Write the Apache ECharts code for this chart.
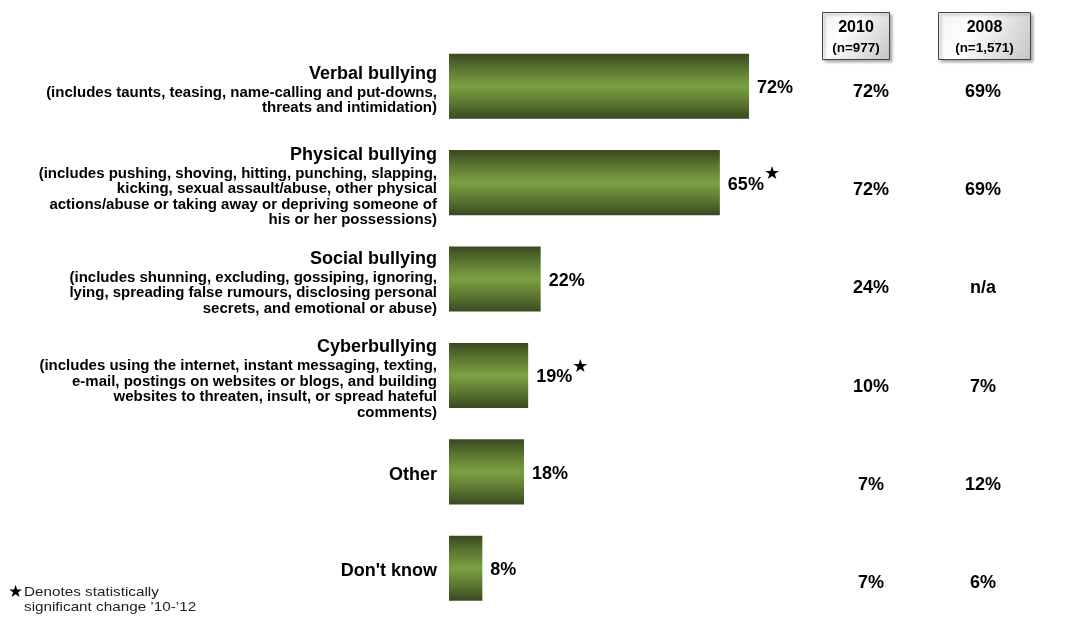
<!DOCTYPE html>
<html>
<head>
<meta charset="utf-8">
<script src="https://cdn.jsdelivr.net/npm/echarts@6/dist/echarts.min.js"></script>
<style>
  html, body { margin: 0; padding: 0; background: #fff; }
  #chart { width: 1069px; height: 618px; }
</style>
</head>
<body>
<div id="chart"></div>
<script>
// Types of bullying experienced (current wave) with earlier waves alongside
const categories = ['Verbal bullying', 'Physical bullying', 'Social bullying', 'Cyberbullying', 'Other', "Don't know"];
const descriptions = [
  ['(includes taunts, teasing, name-calling and put-downs,', 'threats and intimidation)'],
  ['(includes pushing, shoving, hitting, punching, slapping,', 'kicking, sexual assault/abuse, other physical', 'actions/abuse or taking away or depriving someone of', 'his or her possessions)'],
  ['(includes shunning, excluding, gossiping, ignoring,', 'lying, spreading false rumours, disclosing personal', 'secrets, and emotional or abuse)'],
  ['(includes using the internet, instant messaging, texting,', 'e-mail, postings on websites or blogs, and building', 'websites to threaten, insult, or spread hateful', 'comments)'],
  [],
  []
];
const currentValues = [72, 65, 22, 19, 18, 8];
const significant = [false, true, false, true, false, false];
const values2010 = [72, 72, 24, 10, 7, 7];
const values2008 = [69, 69, null, 7, 12, 6];
const columnYears = ['2010', '2008'];
const columnSizes = ['(n=977)', '(n=1,571)'];
const footnote = ['Denotes statistically', 'significant change \u201910-\u201912'];

const FONT = 'Liberation Sans, Arial, sans-serif';
const chart = echarts.init(document.getElementById('chart'));

const barGradient = new echarts.graphic.LinearGradient(0, 0, 0, 1, [
  { offset: 0, color: '#3b4820' },
  { offset: 0.22, color: '#587330' },
  { offset: 0.5, color: '#7aa243' },
  { offset: 0.78, color: '#587330' },
  { offset: 1, color: '#3b4820' }
]);

// table cells: [column, row, value]
const tableData = [];
categories.forEach((c, i) => {
  tableData.push([columnYears[0], c, values2010[i]]);
  tableData.push([columnYears[1], c, values2008[i]]);
});

// header boxes above the table columns
const headerBoxes = [
  { x: 822, w: 67 },
  { x: 938, w: 92 }
];
const headerGraphics = columnYears.map((yr, i) => ({
  type: 'group',
  left: headerBoxes[i].x,
  top: 12,
  children: [
    {
      type: 'rect',
      shape: { x: 0, y: 0, width: headerBoxes[i].w, height: 47 },
      style: {
        fill: new echarts.graphic.LinearGradient(0, 0, 1, 1, [
          { offset: 0, color: '#f2f2f2' },
          { offset: 0.35, color: '#ffffff' },
          { offset: 1, color: '#c4c4c4' }
        ]),
        stroke: '#444',
        lineWidth: 1,
        shadowColor: 'rgba(0,0,0,0.35)',
        shadowBlur: 3,
        shadowOffsetX: 2,
        shadowOffsetY: 2
      }
    },
    {
      type: 'text',
      x: headerBoxes[i].w / 2, y: 15,
      style: { text: yr, font: 'bold 16px ' + FONT, fill: '#000', align: 'center', verticalAlign: 'middle' }
    },
    {
      type: 'text',
      x: headerBoxes[i].w / 2, y: 36.5,
      scaleX: 1.12,
      style: { text: columnSizes[i], font: 'bold 12px ' + FONT, fill: '#000', align: 'center', verticalAlign: 'middle' }
    }
  ]
}));

const option = {
  backgroundColor: '#fff',
  animation: false,
  textStyle: { fontFamily: FONT },
  grid: [
    { left: 449, width: 416.7, top: 38, bottom: 1.5, outerBoundsMode: 'none' },
    { left: 815, width: 224, top: 43, bottom: -14, outerBoundsMode: 'none' }
  ],
  xAxis: [
    { type: 'value', gridIndex: 0, min: 0, max: 100, show: false },
    { type: 'category', gridIndex: 1, data: columnYears, show: false }
  ],
  yAxis: [
    {
      type: 'category', gridIndex: 0, data: categories, inverse: true,
      axisLine: { show: false }, axisTick: { show: false }, splitLine: { show: false },
      axisLabel: {
        margin: 12,
        align: 'right',
        padding: [6, 0, 0, 0],
        formatter: (value, idx) => {
          const lines = ['{t|' + value + '}'];
          descriptions[idx].forEach(l => lines.push('{d|' + l + '}'));
          return lines.join('\n');
        },
        rich: {
          t: { fontFamily: FONT, fontWeight: 'bold', fontSize: 18, lineHeight: 22, color: '#000', align: 'right' },
          d: { fontFamily: FONT, fontWeight: 'bold', fontSize: 15, lineHeight: 15.5, color: '#000', align: 'right' }
        }
      }
    },
    {
      type: 'category', gridIndex: 1, data: categories, inverse: true, show: false
    }
  ],
  series: [
    {
      type: 'bar',
      xAxisIndex: 0, yAxisIndex: 0,
      data: currentValues,
      barCategoryGap: '32.5%',
      itemStyle: { color: barGradient },
      label: {
        show: true,
        position: 'right',
        distance: 8,
        offset: [0, 2],
        formatter: p => significant[p.dataIndex] ? '{v|' + p.value + '%}{s|\u2605}' : '{v|' + p.value + '%}',
        rich: {
          v: { fontFamily: FONT, fontWeight: 'bold', fontSize: 18, color: '#000' },
          s: { fontFamily: 'DejaVu Sans', fontSize: 18, color: '#000', padding: [0, 0, 21, 0] }
        }
      }
    },
    {
      type: 'scatter',
      xAxisIndex: 1, yAxisIndex: 1,
      data: tableData,
      symbolSize: 1,
      itemStyle: { color: 'rgba(0,0,0,0)', opacity: 1 },
      label: {
        show: true,
        position: 'inside',
        formatter: p => p.value[2] == null ? 'n/a' : p.value[2] + '%',
        fontFamily: FONT, fontWeight: 'bold', fontSize: 18, color: '#000',
        textBorderWidth: 0
      }
    }
  ],
  graphic: headerGraphics.concat([
    {
      type: 'text', left: 8, top: 584,
      style: { text: '\u2605', font: '17px DejaVu Sans', fill: '#000' }
    },
    {
      type: 'text', left: 24, top: 585, scaleX: 1.13,
      style: { text: footnote.join('\n'), font: '13.5px ' + FONT, fill: '#222', lineHeight: 15 }
    }
  ])
};
chart.setOption(option);
</script>
</body>
</html>
